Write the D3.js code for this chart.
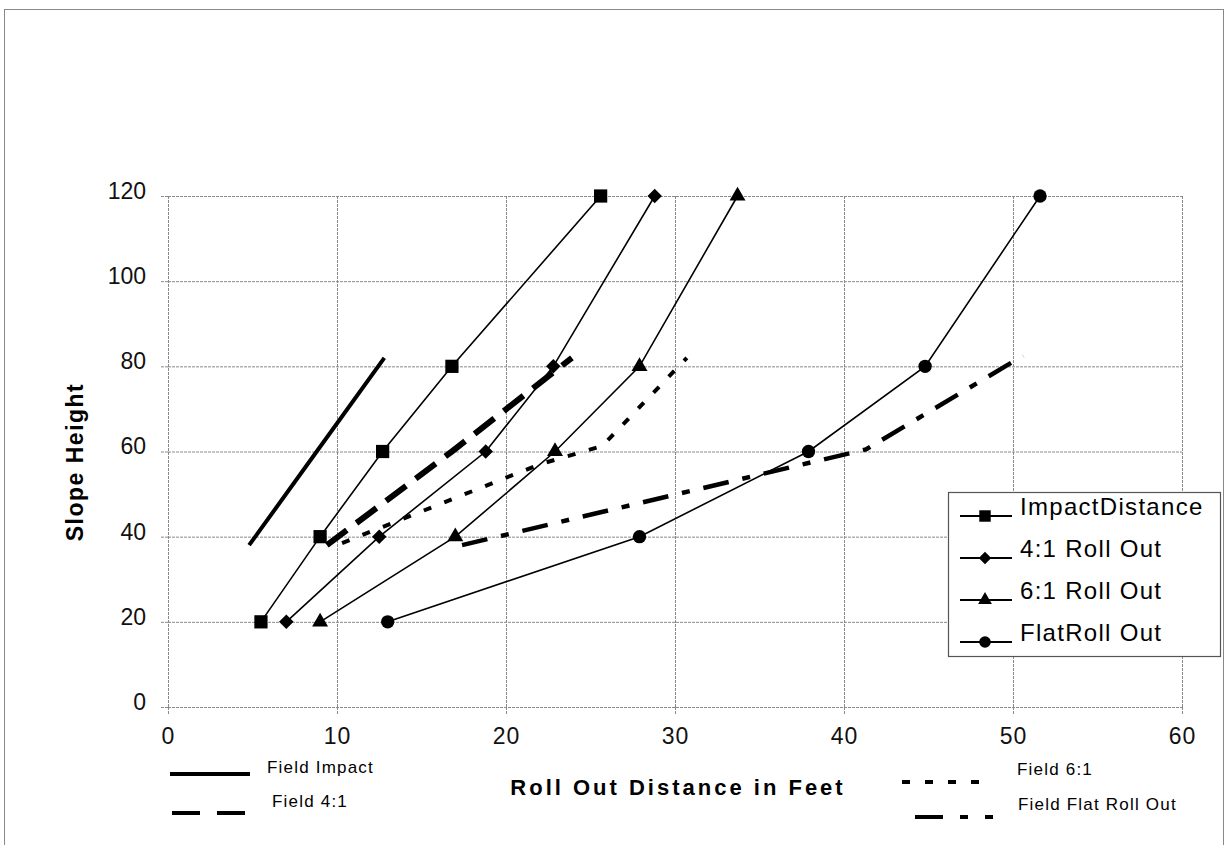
<!DOCTYPE html>
<html>
<head>
<meta charset="utf-8">
<script src="https://d3js.org/d3.v7.min.js"></script>
<style>
  body { margin: 0; background: #fff; }
  svg { font-family: "Liberation Sans", Arial, sans-serif; }
  .grid line { stroke: #8a8a8a; stroke-width: 1; stroke-dasharray: 3,1; }
  .tick text { fill: #111; }
</style>
</head>
<body>
<svg width="1228" height="845"></svg>
<script>
// slope heights used by every measured series
var heights = [20, 40, 60, 80, 120];

// roll out distances (feet)
var impactDistance = [5.5, 9.0, 12.7, 16.8, 25.6];
var rollOut41 = [7.0, 12.5, 18.8, 22.8, 28.8];
var rollOut61 = [9.0, 17.0, 22.9, 27.9, 33.7];
var flatRollOut = [13.0, 27.9, 37.9, 44.8, 51.6];

// field lines (no markers)
var fieldImpactX = [4.8, 8.8, 12.8];
var fieldImpactY = [38, 60, 82];
var field41X = [9.4, 16.8, 23.9];
var field41Y = [38, 60, 82];
var field61X = [10.3, 22.0, 25.7, 30.7];
var field61Y = [38.5, 57, 61.3, 82];
var fieldFlatX = [17.4, 41.3, 50.6];
var fieldFlatY = [38, 60.5, 82.5];

var xTicks = [0, 10, 20, 30, 40, 50, 60];
var yTicks = [0, 20, 40, 60, 80, 100, 120];

var seriesNames = ['ImpactDistance', '4:1 Roll Out', '6:1 Roll Out', 'FlatRoll Out'];
var fieldNames = ['Field Impact', 'Field 4:1', 'Field 6:1', 'Field Flat Roll Out'];

var svg = d3.select('svg');

var x = d3.scaleLinear().domain([0, 60]).range([168, 1182]);
var y = d3.scaleLinear().domain([0, 120]).range([707, 196]);

// outer frame
svg.append('rect')
  .attr('x', 4.5).attr('y', 9.5)
  .attr('width', 1219).attr('height', 900)
  .attr('fill', 'none').attr('stroke', '#888').attr('stroke-width', 1);

// gridlines with small outward ticks
svg.append('g')
  .attr('class', 'grid')
  .attr('transform', 'translate(0,' + y(0) + ')')
  .call(d3.axisBottom(x).tickValues(xTicks).tickSizeInner(-(y(0) - y(120))).tickSizeOuter(0).tickFormat(''))
  .call(g => g.select('.domain').remove());

svg.append('g')
  .attr('class', 'grid')
  .attr('transform', 'translate(' + x(0) + ',0)')
  .call(d3.axisLeft(y).tickValues(yTicks).tickSizeInner(-(x(60) - x(0))).tickSizeOuter(0).tickFormat(''))
  .call(g => g.select('.domain').remove());

var xAxis = svg.append('g')
  .attr('class', 'grid')
  .attr('transform', 'translate(0,' + y(0) + ')')
  .call(d3.axisBottom(x).tickValues(xTicks).tickSize(8).tickPadding(13));
xAxis.select('.domain').remove();
xAxis.selectAll('text').attr('font-size', 23).attr('letter-spacing', 1).attr('font-family', '"Liberation Sans", Arial, sans-serif');

var yAxis = svg.append('g')
  .attr('class', 'grid')
  .attr('transform', 'translate(' + x(0) + ',0)')
  .call(d3.axisLeft(y).tickValues(yTicks).tickSize(8).tickPadding(14));
yAxis.select('.domain').remove();
yAxis.selectAll('text').attr('font-size', 23).attr('y', -5).attr('font-family', '"Liberation Sans", Arial, sans-serif');

// axis titles
svg.append('text')
  .attr('x', 678).attr('y', 795)
  .attr('text-anchor', 'middle')
  .attr('font-size', 22).attr('font-weight', 'bold')
  .attr('letter-spacing', 3)
  .text('Roll Out Distance in Feet');

svg.append('text')
  .attr('transform', 'translate(83,462) rotate(-90)')
  .attr('text-anchor', 'middle')
  .attr('font-size', 23).attr('font-weight', 'bold')
  .attr('letter-spacing', 1.5)
  .text('Slope Height');

var line = d3.line().x(d => x(d[0])).y(d => y(d[1]));

// field lines
var fields = [
  { xs: fieldImpactX, ys: fieldImpactY, w: 4, dash: null },
  { xs: field41X, ys: field41Y, w: 6, dash: '25,12' },
  { xs: field61X, ys: field61Y, w: 4, dash: '8,14' },
  { xs: fieldFlatX, ys: fieldFlatY, w: 4.5, dash: '26,14,8,14' }
];

fields.forEach(function(f) {
  svg.append('path')
    .datum(f.xs.map((v, i) => [v, f.ys[i]]))
    .attr('d', line)
    .attr('fill', 'none')
    .attr('stroke', '#000')
    .attr('stroke-width', f.w)
    .attr('stroke-dasharray', f.dash);
});

// measured series
var series = [
  { xs: impactDistance, sym: d3.symbolSquare, size: 175, rot: 0 },
  { xs: rollOut41, sym: d3.symbolSquare, size: 105, rot: 45 },
  { xs: rollOut61, sym: d3.symbolTriangle, size: 110, rot: 0 },
  { xs: flatRollOut, sym: d3.symbolCircle, size: 140, rot: 0 }
];

series.forEach(function(s) {
  var pts = s.xs.map((v, i) => [v, heights[i]]);
  svg.append('path')
    .datum(pts)
    .attr('d', line)
    .attr('fill', 'none')
    .attr('stroke', '#000')
    .attr('stroke-width', 1.6);

  svg.selectAll(null)
    .data(pts)
    .enter().append('path')
    .attr('d', d3.symbol().type(s.sym).size(s.size))
    .attr('transform', d => 'translate(' + x(d[0]) + ',' + y(d[1]) + ') rotate(' + s.rot + ')')
    .attr('fill', '#000');
});

// legend box
var legend = svg.append('g');
legend.append('rect')
  .attr('x', 948.5).attr('y', 492.5)
  .attr('width', 272).attr('height', 164)
  .attr('fill', '#fff').attr('stroke', '#555').attr('stroke-width', 1.2);

series.forEach(function(s, i) {
  var ly = 516 + i * 42;
  legend.append('line')
    .attr('x1', 960).attr('x2', 1012)
    .attr('y1', ly).attr('y2', ly)
    .attr('stroke', '#000').attr('stroke-width', 1.8);
  legend.append('path')
    .attr('d', d3.symbol().type(s.sym).size(s.size * 0.75))
    .attr('transform', 'translate(985,' + ly + ') rotate(' + s.rot + ')')
    .attr('fill', '#000');
  legend.append('text')
    .attr('x', 1020).attr('y', ly - 1)
    .attr('font-size', 24)
    .attr('letter-spacing', 1.3)
    .text(seriesNames[i]);
});

// field legend under the axis
var fieldLegend = [
  { x1: 170, x2: 250, ly: 774, tx: 267, ty: 773 },
  { x1: 172, x2: 245, ly: 813, tx: 272, ty: 807 },
  { x1: 902, x2: 982, ly: 782, tx: 1017, ty: 775 },
  { x1: 915, x2: 994, ly: 817, tx: 1018, ty: 810 }
];
var legendDash = [null, '28,17', '8,15', '28,17,8,17,8'];

fieldLegend.forEach(function(f, i) {
  svg.append('line')
    .attr('x1', f.x1).attr('x2', f.x2)
    .attr('y1', f.ly).attr('y2', f.ly)
    .attr('stroke', '#000')
    .attr('stroke-width', 4)
    .attr('stroke-dasharray', legendDash[i]);
  svg.append('text')
    .attr('x', f.tx).attr('y', f.ty)
    .attr('font-size', 17)
    .attr('letter-spacing', 1.2)
    .text(fieldNames[i]);
});
</script>
</body>
</html>
